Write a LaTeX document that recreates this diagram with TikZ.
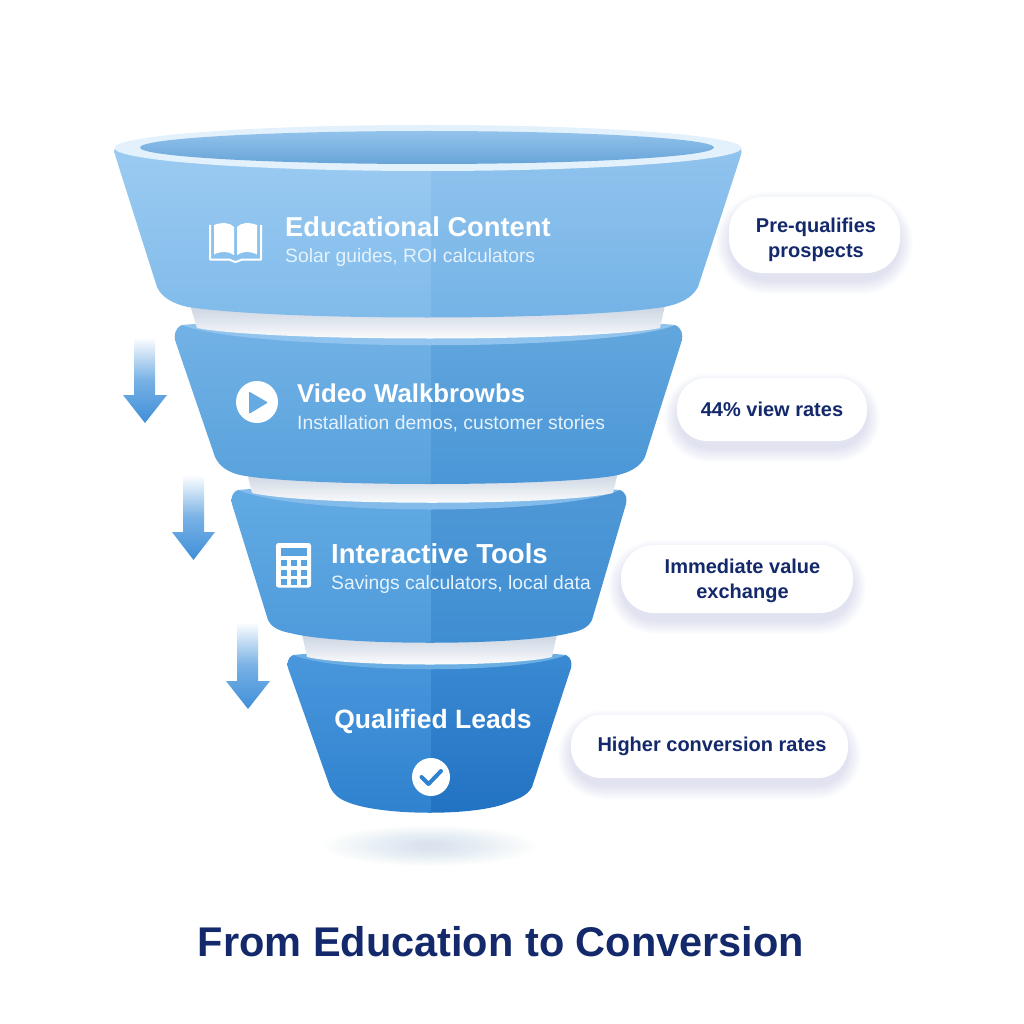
\documentclass[tikz,border=0pt]{standalone}
\usepackage{fontspec}
\setmainfont{Liberation Sans}
\definecolor{navy}{HTML}{13296B}
\definecolor{subtxt}{HTML}{E6F2FC}
\definecolor{shad}{HTML}{7F9CC4}
\definecolor{gshad}{HTML}{A9C0DC}
\definecolor{arrowblue}{HTML}{3F8FD8}
\definecolor{arrowmid}{HTML}{78B1E5}
\definecolor{necktop}{HTML}{C9D3E1}
\definecolor{aLT}{HTML}{9FCDF3}\definecolor{aLB}{HTML}{80BBEA}
\definecolor{aRT}{HTML}{95C6EF}\definecolor{aRB}{HTML}{74B3E6}
\definecolor{bLT}{HTML}{73B2E6}\definecolor{bLB}{HTML}{58A2DC}
\definecolor{bRT}{HTML}{63A7DD}\definecolor{bRB}{HTML}{4A96D7}
\definecolor{cLT}{HTML}{62ABE3}\definecolor{cLB}{HTML}{4F9ADB}
\definecolor{cRT}{HTML}{4F98D6}\definecolor{cRB}{HTML}{3F8ED2}
\definecolor{dLT}{HTML}{4A97DC}\definecolor{dLB}{HTML}{2F82CF}
\definecolor{dRT}{HTML}{3B8AD3}\definecolor{dRB}{HTML}{2272C3}
\definecolor{bandb}{HTML}{90C4EE}
\definecolor{bandc}{HTML}{83BBEA}
\definecolor{bandd}{HTML}{6BAEE4}
\definecolor{rimout}{HTML}{E3F1FC}
\definecolor{rimT}{HTML}{92C3EC}
\definecolor{rimB}{HTML}{68A4D8}
\tikzset{
  x=1pt,y=-1pt,
  pill/.style={fill=white,rounded corners=#1,inner sep=0pt},
  pilltext/.style={inner sep=0pt,align=center,text=navy,font=\fontsize{20}{25}\selectfont\bfseries},
  head/.style={anchor=west,inner sep=0pt,text=white,font=\fontsize{#1}{30}\selectfont\bfseries},
  sub/.style={anchor=west,inner sep=0pt,text=subtxt,font=\fontsize{19.3}{22}\selectfont},
  flow/.style={top color=white,bottom color=arrowblue,middle color=arrowmid},
  neck/.style={top color=necktop,bottom color=white}
}
\newcommand{\softshadow}[4]{%
  \foreach \i in {0,2,...,26}{%
    \pgfmathsetmacro{\rr}{#4/2+13-\i/2}
    \fill[shad,opacity=.014,rounded corners=\rr pt]
      ({#1-#3/2-13+\i/2},{#2-#4/2-5+\i/2}) rectangle ({#1+#3/2+13-\i/2},{#2+#4/2+21-\i/2});
  }}
% #1 path, #2 top y, #3 bottom y, #4 colour prefix
\newcommand{\tierbody}[4]{%
  \begin{scope}
    \clip #1;
    \shade[top color=#4LT,bottom color=#4LB] (100,#2) rectangle (431,#3);
    \shade[top color=#4RT,bottom color=#4RB] (431,#2) rectangle (760,#3);
  \end{scope}}
\begin{document}
\begin{tikzpicture}
\useasboundingbox (0,0) rectangle (1024,1024);
\fill[white] (0,0) rectangle (1024,1024);

% ground shadow
\foreach \i in {0,...,13}{
  \fill[gshad,opacity=.03] (430,846) ellipse ({106-\i*7} and {20-\i*1.2});
}

% ---------- tier 4
\tierbody{(293,655) .. controls (287,658) and (287,664) .. (288,668) -- (330,787)
    .. controls (335,797) and (342,800) .. (350,803)
    .. controls (385,816) and (475,816) .. (507,803)
    .. controls (518,799) and (527,796) .. (532,787) -- (571,668)
    .. controls (572,664) and (572,658) .. (566,655) -- cycle}{650}{815}{d}
\fill[bandd] (293,655) .. controls (340,674) and (520,674) .. (566,655)
   .. controls (520,650) and (340,650) .. (293,655) -- cycle;
% neck 3
\shade[neck] (302,634) -- (307,657) .. controls (350,667) and (510,667) .. (552,657) -- (557,634) -- cycle;

% ---------- tier 3
\tierbody{(238,490) .. controls (231,493) and (231,499) .. (232,504) -- (268,620)
    .. controls (272,628) and (280,631) .. (290,633)
    .. controls (340,646) and (520,646) .. (570,633)
    .. controls (580,631) and (588,628) .. (592,620) -- (626,504)
    .. controls (627,499) and (627,493) .. (620,490) -- cycle}{485}{645}{c}
\fill[bandc] (238,490) .. controls (300,516) and (560,516) .. (620,490)
   .. controls (560,484) and (300,484) .. (238,490) -- cycle;
% neck 2
\shade[neck] (247,472) -- (252,493) .. controls (310,506) and (555,506) .. (613,493) -- (618,472) -- cycle;

% ---------- tier 2
\tierbody{(182,325) .. controls (175,328) and (174,335) .. (175,340) -- (215,457)
    .. controls (220,467) and (228,472) .. (240,475)
    .. controls (300,487) and (560,487) .. (618,475)
    .. controls (630,472) and (640,467) .. (645,457) -- (682,340)
    .. controls (683,335) and (682,328) .. (675,325) -- cycle}{320}{485}{b}
\fill[bandb] (182,325) .. controls (250,352) and (610,352) .. (675,325)
   .. controls (610,318) and (250,318) .. (182,325) -- cycle;
% neck 1
\shade[neck] (190,305) -- (197,328) .. controls (270,342) and (590,342) .. (660,328) -- (665,305) -- cycle;

% ---------- tier 1
\tierbody{(115,148) .. controls (114,152) and (115,155) .. (116,158) -- (157,287)
    .. controls (162,298) and (174,304) .. (188,307)
    .. controls (280,321) and (575,321) .. (664,307)
    .. controls (680,304) and (692,298) .. (698,287) -- (740,158)
    .. controls (741,155) and (742,152) .. (741,148) -- cycle}{125}{318}{a}
\fill[rimout] (428,148) ellipse (313.5 and 23);
\shade[top color=rimT,bottom color=rimB] (427,147.5) ellipse (287 and 16.5);

% ---------- flow arrows
\shade[flow] (134,337) -- (155,337) -- (155,395) -- (167,395) -- (145,423) -- (123,395) -- (134,395) -- cycle;
\shade[flow] (183,475) -- (204,475) -- (204,532) -- (215,532) -- (193.5,560) -- (172,532) -- (183,532) -- cycle;
\shade[flow] (237,622) -- (258,622) -- (258,681) -- (270,681) -- (248,709) -- (226,681) -- (237,681) -- cycle;

% ---------- icons
% book
\draw[white,line width=2pt,line join=round] (210,225) -- (210,259.5) -- (229,259.5) .. controls (232,260) and (233,262) .. (235.5,262) .. controls (238,262) and (239,260) .. (242,259.5) -- (261,259.5) -- (261,225);
\fill[white] (214,225) .. controls (222,222) and (230,222.5) .. (234,227) -- (234,255) .. controls (228,251) and (221,251) .. (214,254.5) -- cycle;
\fill[white] (257,225) .. controls (249,222) and (241,222.5) .. (237,227) -- (237,255) .. controls (243,251) and (250,251) .. (257,254.5) -- cycle;
% play
\fill[white] (257,402) circle (21);
\fill[bLT!50!bLB,rounded corners=1pt] (249,391.5) -- (268,402.5) -- (249,414) -- cycle;
% calculator
\fill[white,rounded corners=2.5pt] (276,543) rectangle (311,587.5);
\fill[cLT!50!cLB] (280.5,548) rectangle (306.5,555.5);
\foreach \cy in {559.5,569.5,579}{
  \foreach \cx in {280.5,290.5,300.5}{
    \fill[cLT!50!cLB] (\cx,\cy) rectangle ({\cx+6},{\cy+6});
  }
}
% check
\fill[white] (431,777) circle (19);
\draw[dLB,line width=4pt,line cap=round,line join=round] (421.5,777) -- (428.5,784) -- (441,771);

% ---------- tier labels
\node[head=27.3] (t1) at (285,227) {Educational Content};
\node[sub]  (s1) at (285,258) {Solar guides, ROI calculators};
\node[head=25.8] (t2) at (297,393) {Video Walkbrowbs};
\node[sub]  (s2) at (297,424) {Installation demos, customer stories};
\node[head=27.5] (t3) at (331,554) {Interactive Tools};
\node[sub]  (s3) at (331,585) {Savings calculators, local data};
\node[head=26.5,anchor=center] (t4) at (433,721) {Qualified Leads};

% ---------- side pills
\softshadow{814.5}{235}{171}{76}
\node[pill=34,minimum width=171,minimum height=76] (p1) at (814.5,235) {};
\node[pilltext] (l1) at (816,239.5) {Pre-qualifies\\prospects};
\softshadow{772}{409.5}{190}{63}
\node[pill=30,minimum width=190,minimum height=63] (p2) at (772,409.5) {};
\node[pilltext] (l2) at (772,409.5) {44\% view rates};
\softshadow{737}{579}{232}{68}
\node[pill=33,minimum width=232,minimum height=68] (p3) at (737,579) {};
\node[pilltext] (l3) at (742.5,581) {Immediate value\\exchange};
\softshadow{709.5}{746.5}{277}{63}
\node[pill=30,minimum width=277,minimum height=63] (p4) at (709.5,746.5) {};
\node[pilltext] (l4) at (712,746) {Higher conversion rates};

% ---------- title
\node[inner sep=0pt,text=navy,font=\fontsize{41.5}{46}\selectfont\bfseries] (title) at (501,942) {From Education to Conversion};
\end{tikzpicture}
\end{document}
